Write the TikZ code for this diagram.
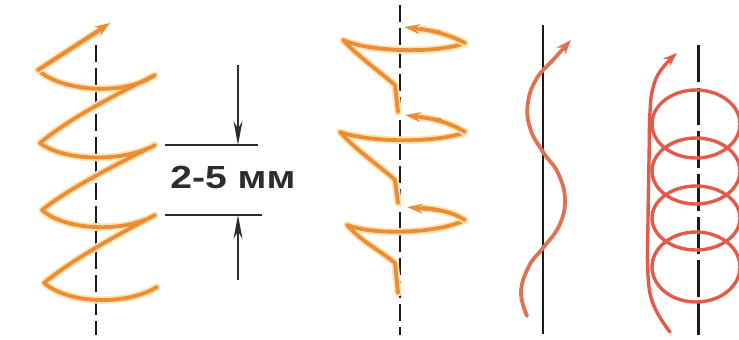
\documentclass[tikz,border=0pt]{standalone}
\usepackage{fontspec}
\usepackage{graphicx}
\setmainfont{Liberation Sans}
\usetikzlibrary{arrows.meta}
\definecolor{spiralorange}{RGB}{236,140,52}
\definecolor{halo}{RGB}{252,228,180}
\definecolor{wavered}{RGB}{226,112,82}
\definecolor{ringred}{RGB}{228,90,72}
\definecolor{axisgray}{RGB}{28,28,28}
\definecolor{dimgray}{RGB}{45,45,45}
\begin{document}
\begin{tikzpicture}[x=1pt,y=-1pt,
  axisdash/.style={draw=axisgray,line width=2.2pt,dash pattern=on 17pt off 6pt},
  axissolid/.style={draw=axisgray,line width=2.4pt},
  spiral/.style={draw=spiralorange,line width=3.8pt,line cap=round,line join=round,
     preaction={draw=halo,line width=7.5pt,line cap=round,line join=round}},
  spiralarrow/.style={draw=spiralorange,line width=3.8pt,line cap=round,
     -{Stealth[length=15pt,width=11pt]}},
  loophead/.style={draw=spiralorange,line width=3.2pt,line cap=round,
     -{Stealth[length=16pt,width=10pt]}},
  wave/.style={draw=wavered,line width=3.8pt,line cap=round,
     -{Stealth[length=15pt,width=11pt]}},
  ring/.style={draw=ringred,line width=3.4pt},
  ringarrow/.style={draw=ringred,line width=3.4pt,line cap=round,
     -{Stealth[length=14pt,width=10pt]}},
  dimline/.style={draw=dimgray,line width=1.8pt},
  dimarrow/.style={draw=dimgray,line width=1.4pt,-{Stealth[length=24pt,width=9pt]}},
  dimtext/.style={text=dimgray,font=\fontsize{32}{36}\bfseries\selectfont,inner sep=0pt}
]
\useasboundingbox (0,0) rectangle (739,340);
\fill[white] (0,0) rectangle (739,340);

% ---------- figure 1 : helical spiral ----------
\draw[axisdash] (96,45) -- (96,335);
\draw[spiral] (38,70) .. controls (62,92) and (125,96) .. (155,75)
  .. controls (115,95) and (70,118) .. (40,143)
  .. controls (65,162) and (125,162) .. (155,145)
  .. controls (115,165) and (70,188) .. (42,210)
  .. controls (67,232) and (127,232) .. (155,215)
  .. controls (115,236) and (72,260) .. (44,283)
  .. controls (70,305) and (128,305) .. (157,287);
\draw[spiral] (38,70) -- (100,30);
\coordinate (s1a) at (38,70);
\coordinate (s1b) at (110,23);
\draw[spiralarrow] (s1a) -- (s1b);

% dimension
\coordinate (d1l) at (165,145); \coordinate (d1r) at (258,145);
\coordinate (d2l) at (165,215); \coordinate (d2r) at (262,215);
\coordinate (a1s) at (238,65);  \coordinate (a1e) at (238,145);
\coordinate (a2s) at (238,280); \coordinate (a2e) at (238,215);
\draw[dimline] (d1l) -- (d1r);
\draw[dimline] (d2l) -- (d2r);
\draw[dimarrow] (a1s) -- (a1e);
\draw[dimarrow] (a2s) -- (a2e);
\node[dimtext] (gap) at (233,177) {\scalebox{1.22}[1]{2-5 мм}};

% ---------- figure 2 : stepped spiral ----------
\draw[axisdash] (400,5) -- (400,335);
% loop 1
\draw[spiral] (465,43) .. controls (440,53) and (372,53) .. (343,40)
  .. controls (360,58) and (380,72) .. (395,85) -- (398,112);
\draw[spiral] (465,43) .. controls (452,36) and (436,31) .. (420,29);
\coordinate (h1s) at (440,32); \coordinate (h1e) at (404,27);
\draw[loophead] (h1s) -- (h1e);
% loop 2
\draw[spiral] (465,132) .. controls (440,143) and (370,143) .. (340,132)
  .. controls (358,152) and (380,166) .. (395,180) -- (398,203);
\draw[spiral] (465,132) .. controls (452,124) and (436,119) .. (420,117);
\coordinate (h2s) at (441,120); \coordinate (h2e) at (405,115);
\draw[loophead] (h2s) -- (h2e);
% loop 3
\draw[spiral] (465,220) .. controls (440,233) and (375,236) .. (347,225)
  .. controls (362,242) and (382,252) .. (395,263) -- (398,293);
\draw[spiral] (465,220) .. controls (452,212) and (438,209) .. (422,208);
\coordinate (h3s) at (443,211); \coordinate (h3e) at (407,207);
\draw[loophead] (h3s) -- (h3e);

% ---------- figure 3 : wave ----------
\draw[axissolid] (543,25) -- (543,334);
\draw[wave] plot[smooth,tension=0.7] coordinates {(527,316) (521,292) (529,266) (543,248)
  (559,226) (565,200) (558,173) (543,152) (530,128) (528,102) (537,78) (553,60) (571,40)};

% ---------- figure 4 : rings ----------
\draw[axisgray,line width=3pt,dash pattern=on 37pt off 6pt] (698,45) -- (698,335);
\draw[ring] (696,124) ellipse [x radius=44, y radius=34];
\draw[ring] (696,171) ellipse [x radius=44, y radius=33];
\draw[ring] (696,218) ellipse [x radius=44, y radius=32];
\draw[ring] (696,267) ellipse [x radius=44, y radius=35];
\draw[ringarrow] plot[smooth,tension=0.7] coordinates {(670,332) (654,306) (648,275)
  (648,220) (649,160) (650,112) (653,88) (661,70) (677,53)};
\end{tikzpicture}
\end{document}
